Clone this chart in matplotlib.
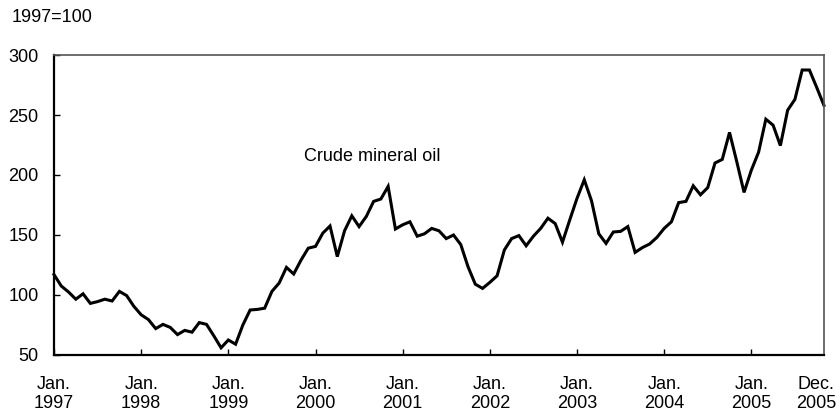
import numpy as np
import matplotlib
matplotlib.use('Agg')
import matplotlib.pyplot as plt
import matplotlib.transforms as mtransforms

plt.rcParams['font.family'] = ['Liberation Sans', 'DejaVu Sans']

# monthly index, 1997=100 (Jan. 1997 ... Dec. 2005)
crude_oil = [
    117, 107.5, 102.5, 96.5, 101, 93, 94.5, 96.5, 95, 103, 99.5, 90.5,
    83.5, 79.5, 72, 75.5, 73, 67, 70.5, 69, 77, 75.5, 66, 56,
    62.5, 59, 75, 87.5, 88, 89, 103, 110, 123, 117.5, 129, 139,
    140.5, 151.5, 157.5, 132, 153.5, 166, 157, 165.5, 178, 180, 190.5, 155,
    158.5, 161, 149, 151, 155.5, 153.5, 147, 150, 142, 123.5, 109, 105.5,
    110.5, 116, 137.5, 147, 149.5, 141, 149, 155.5, 164, 159.5, 144, 162.5,
    180.5, 196, 178.5, 151, 143, 152.5, 153, 157, 135.5, 139.5, 142.5, 148,
    155.5, 161, 177, 178, 191, 183.5, 189.5, 210, 213, 235.5, 211, 185.5,
    204, 219, 246.5, 241.5, 224.5, 254, 263, 287.5, 287.5, 273, 258,
]
tick_pos = [0, 12, 24, 36, 48, 60, 72, 84, 96, 106]
tick_labels = ['Jan.\n1997', 'Jan.\n1998', 'Jan.\n1999', 'Jan.\n2000', 'Jan.\n2001',
               'Jan.\n2002', 'Jan.\n2003', 'Jan.\n2004', 'Jan.\n2005', 'Dec.\n2005']
y_ticks = [50, 100, 150, 200, 250, 300]

fig = plt.figure(figsize=(8.36, 4.17), dpi=100)
ax = fig.add_axes([0.0646, 0.1487, 0.9856 - 0.0646, 0.8681 - 0.1487])

months = np.arange(len(crude_oil))
ax.plot(months, crude_oil, color='black', linewidth=2.2, solid_joinstyle='miter', clip_on=False)

ax.set_xlim(0, len(crude_oil) - 1)
ax.set_ylim(50, 300)
ax.set_yticks(y_ticks)
ax.set_xticks(tick_pos)
ax.set_xticklabels(tick_labels, fontsize=13)
ax.tick_params(axis='x', direction='in', length=4, width=1, pad=15)
ax.tick_params(axis='y', direction='in', length=4, width=1, pad=11, labelsize=13)

# last label sits a bit left of the right edge
last = ax.get_xticklabels()[-1]
last.set_transform(last.get_transform() + mtransforms.ScaledTranslation(-8 / 100, 0, fig.dpi_scale_trans))
ax.get_xticklines()[-2].set_visible(False)

for s in ['left', 'bottom']:
    ax.spines[s].set_linewidth(1.6)
    ax.spines[s].set_color('black')
for s in ['top', 'right']:
    ax.spines[s].set_linewidth(1.2)
    ax.spines[s].set_color('#555555')

ax.text(34.4, 215, 'Crude mineral oil', fontsize=13, ha='left', va='center')
fig.text(12 / 836, 1 - 18 / 417, '1997=100', fontsize=13, ha='left', va='center')

fig.savefig('out.png', dpi=100)
